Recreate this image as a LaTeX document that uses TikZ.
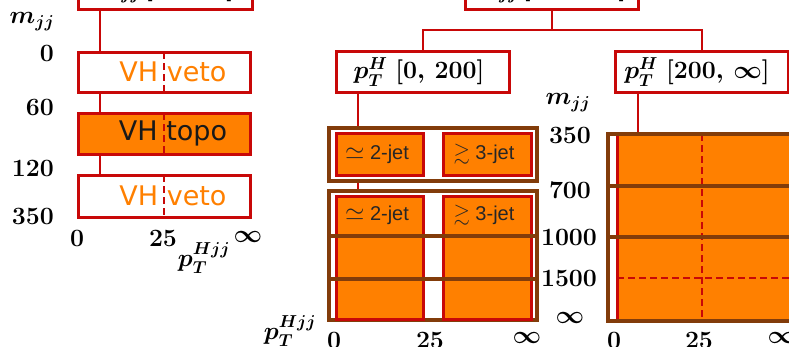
\documentclass[tikz,border=0pt]{standalone}
\usepackage{amssymb}
\usepackage[no-math]{fontspec}
\newfontfamily\vhfont{DejaVu Sans}
\newfontfamily\jetfont{Liberation Sans}
\usetikzlibrary{calc,backgrounds}
\definecolor{vorange}{RGB}{255,128,0}
\definecolor{vred}{RGB}{200,8,8}
\definecolor{vbrown}{RGB}{130,60,10}
\newcommand{\simsym}{{\fontsize{25}{25}\selectfont$\simeq$}}
\newcommand{\gtsym}{{\fontsize{21}{21}\selectfont$\gtrsim$}}
\begin{document}
\begin{tikzpicture}[x=1pt,y=-1pt,
 conn/.style={draw=vred, line width=2pt},
 catbox/.style={draw=vred, line width=3pt, fill=white, inner sep=0pt, outer sep=0pt},
 orbox/.style={catbox, fill=vorange},
 brbox/.style={draw=vbrown, line width=3.5pt, inner sep=0pt, outer sep=0pt},
 brline/.style={draw=vbrown, line width=3.5pt},
 dashln/.style={draw=vred, line width=2pt, dash pattern=on 7pt off 4pt},
 axlab/.style={font=\fontsize{23}{27}\selectfont\boldmath, inner sep=0pt},
 mlab/.style={font=\fontsize{23}{27}\selectfont\boldmath, inner sep=0pt},
 vhlab/.style={font=\vhfont\fontsize{27}{30}\selectfont, inner sep=0pt},
 jetlab/.style={font=\jetfont\fontsize{20}{22}\selectfont, inner sep=0pt, text=black!85},
]
\clip (0,0) rectangle (789,346);
% ---------- left column ----------
\node[catbox, minimum width=174pt, minimum height=38pt] (topL) at (165,-10) {};
\node[mlab] (topLt) at (165,-10) {$m_{jj}\,[0,\,350]$};
\node[catbox, minimum width=172pt, minimum height=40pt] (veto1) at (164,72) {};
\node[orbox, minimum width=172pt, minimum height=41pt] (topo) at (164,133.5) {};
\node[catbox, minimum width=172pt, minimum height=42pt] (veto2) at (164,196) {};
\foreach \b in {veto1,topo,veto2}{\draw[dashln] (\b.north) -- (\b.south);}
\node[vhlab, text=vorange] (veto1t) at (173,72) {VH veto};
\node[vhlab, text=black!90] (topot) at (173,133.5) {VH topo};
\node[vhlab, text=vorange] (veto2t) at (173,196) {VH veto};
% left axes
\node[axlab] (lmjj) at (32,22) {$m_{jj}$};
\node[axlab, anchor=east] (l0) at (54,53) {$0$};
\node[axlab, anchor=east] (l60) at (54,107) {$60$};
\node[axlab, anchor=east] (l120) at (54,168) {$120$};
\node[axlab, anchor=east] (l350) at (54,216) {$350$};
\node[axlab] (lx0) at (77,238) {$0$};
\node[axlab] (lx25) at (163,238) {$25$};
\node[axlab] (lxinf) at (248,237) {$\infty$};
\node[axlab] (lpt) at (204,258) {$p_T^{Hjj}$};
% ---------- right tree ----------
\node[catbox, minimum width=173pt, minimum height=38pt] (topR) at (551.5,-10) {};
\node[mlab] (topRt) at (550,-10) {$m_{jj}\,[350,\,\infty]$};
\node[catbox, minimum width=173pt, minimum height=41pt] (pt1) at (422.5,71.5) {};
\node[mlab] (pt1t) at (419,72) {$p_T^H\;[0,\,200]$};
\node[catbox, minimum width=173pt, minimum height=41pt] (pt2) at (701.5,71.5) {};
\node[mlab] (pt2t) at (697,72) {$p_T^H\;[200,\,\infty]$};
% middle grid
\node[brbox, fill=white, minimum width=208pt, minimum height=53pt] (br1) at (433,154.5) {};
\node[brbox, fill=white, minimum width=208pt, minimum height=129pt] (br2) at (433,255.5) {};
\node[orbox, minimum width=87pt, minimum height=42pt] (jA1) at (379.5,154) {};
\node[orbox, minimum width=88pt, minimum height=42pt] (jB1) at (487,154) {};
\node[orbox, minimum width=87pt, minimum height=123pt] (jA2) at (379.5,257.5) {};
\node[orbox, minimum width=88pt, minimum height=123pt] (jB2) at (487,257.5) {};
\coordinate (h1) at (0,236);
\coordinate (h2) at (0,279);
\draw[brline] (br2.west |- h1) -- (br2.east |- h1);
\draw[brline] (br2.west |- h2) -- (br2.east |- h2);
\node[jetlab] (jA1t) at (377,154) {\simsym\ 2-jet};
\node[jetlab] (jB1t) at (484,154) {\gtsym\ 3-jet};
\node[jetlab] (jA2t) at (377,215) {\simsym\ 2-jet};
\node[jetlab] (jB2t) at (484,215) {\gtsym\ 3-jet};
% right grid
\node[orbox, minimum width=183pt, minimum height=187pt] (rOr) at (708.5,227.5) {};
\coordinate (v3) at (702,0);
\coordinate (h3) at (0,278);
\draw[dashln] (rOr.north -| v3) -- (rOr.south -| v3);
\draw[dashln] (rOr.west |- h3) -- (rOr.east |- h3);
\node[brbox, minimum width=192pt, minimum height=187pt] (rBr) at (704,227.5) {};
\coordinate (h4) at (0,186);
\coordinate (h5) at (0,237);
\draw[brline] (rBr.west |- h4) -- (rBr.east |- h4);
\draw[brline] (rBr.west |- h5) -- (rBr.east |- h5);
% middle axes
\node[axlab] (mmjj) at (568,103) {$m_{jj}$};
\node[axlab] (m350) at (570,135) {$350$};
\node[axlab] (m700) at (570,190) {$700$};
\node[axlab] (m1000) at (569,237) {$1000$};
\node[axlab] (m1500) at (569,278) {$1500$};
\node[axlab] (minf) at (570,318) {$\infty$};
\node[axlab] (mpt) at (290,331) {$p_T^{Hjj}$};
\node[axlab] (mx0) at (334,340) {$0$};
\node[axlab] (mx25) at (430,340) {$25$};
\node[axlab] (mxinf) at (527,338) {$\infty$};
\node[axlab] (rx0) at (614,340) {$0$};
\node[axlab] (rx25) at (699,340) {$25$};
\node[axlab] (rxinf) at (782,338) {$\infty$};
% ---------- connectors (behind) ----------
\begin{scope}[on background layer]
\coordinate (hb) at (0,30);
\draw[conn] ($(topL.south west)+(22,0)$) -- ($(veto2.north west)+(22,0)$);
\draw[conn] (topR.south) -- (topR.south |- hb);
\draw[conn] (pt1.north) |- (topR.south |- hb) -| (pt2.north);
\draw[conn] ($(pt1.south west)+(22,0)$) -- ($(jA2.north west)+(22,0)$);
\coordinate (d2) at ($(pt2.south west)+(23,0)$);
\draw[conn] (d2) -- (d2 |- rBr.north);
\end{scope}
\end{tikzpicture}
\end{document}
